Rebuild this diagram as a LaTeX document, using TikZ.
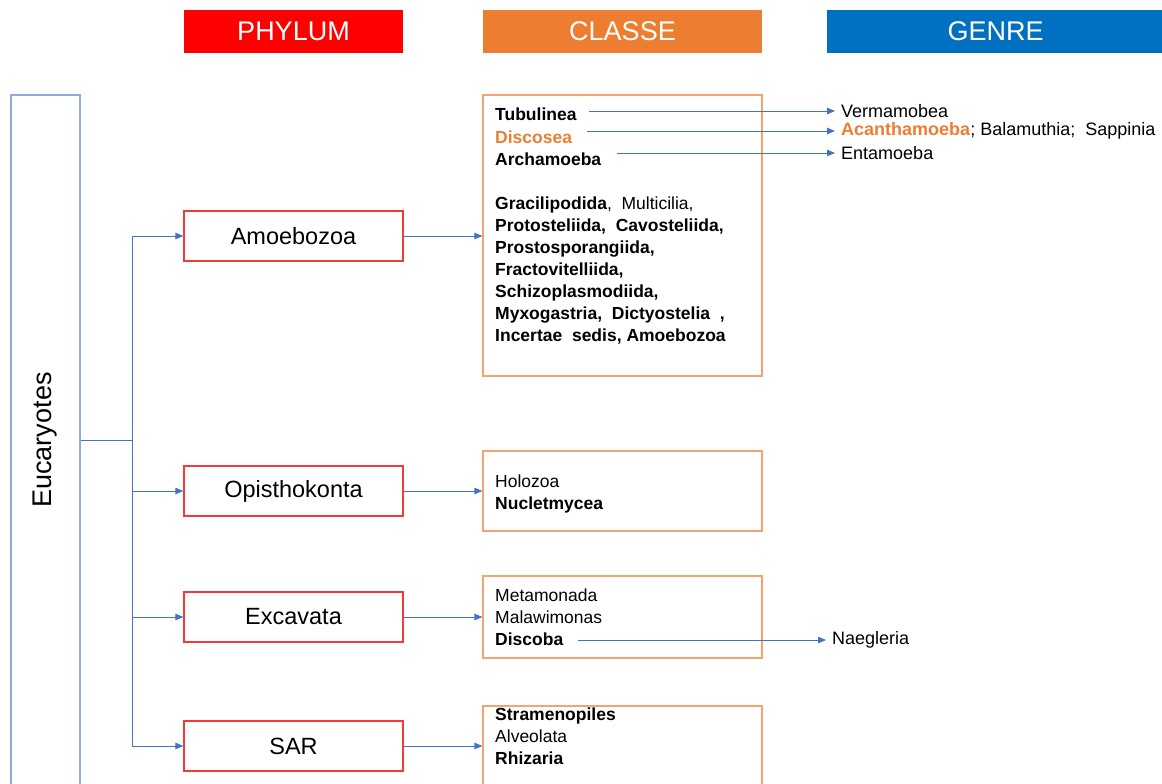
\documentclass[tikz,border=0pt]{standalone}
\usepackage{fontspec}
\setmainfont{Liberation Sans}
\usetikzlibrary{arrows.meta}
\definecolor{hdrred}{HTML}{FF0000}
\definecolor{hdrorange}{HTML}{ED7D31}
\definecolor{hdrblue}{HTML}{0070C0}
\definecolor{linkblue}{HTML}{4472C4}
\definecolor{phylumred}{HTML}{F23A3A}
\definecolor{classeorange}{HTML}{F4A46C}
\definecolor{eukblue}{HTML}{8FAADC}
\definecolor{taxonorange}{HTML}{ED7D31}
\begin{document}
\begin{tikzpicture}[x=1pt, y=-1pt,
    header/.style={fill=#1, text=white, minimum width=219pt, minimum height=43pt, inner sep=0pt, font=\fontsize{27}{30}\selectfont},
    phylumbox/.style={draw=phylumred, line width=1.2pt, minimum width=219pt, minimum height=50pt, font=\fontsize{23.5}{28}\selectfont},
    classebox/.style={draw=classeorange, line width=1.2pt, minimum width=279pt, inner sep=0pt},
    taxon/.style={anchor=base west, inner sep=0pt, align=left, font=\fontsize{17.5}{22}\selectfont},
    genus/.style={anchor=west, inner sep=0pt, font=\fontsize{18}{22}\selectfont},
    link/.style={draw=linkblue, line width=0.9pt},
    arrow/.style={link, -{Triangle[length=8pt, width=6.5pt]}}]
    \useasboundingbox (0,0) rectangle (1162,784);
    \clip (0,0) rectangle (1162,784);

    % headers
    \node[header=hdrred] (hphylum) at (293.5, 31.5) {PHYLUM};
    \node[header=hdrorange, minimum width=279pt] (hclasse) at (622.5, 31.5) {CLASSE};
    \node[header=hdrblue, minimum width=337pt] (hgenre) at (995.5, 31.5) {GENRE};

    % root
    \node[draw=eukblue, line width=1.2pt, rotate=90, minimum width=690pt, minimum height=69pt, font=\fontsize{27}{30}\selectfont] (euk) at (45.5, 440) {Eucaryotes};
    \coordinate (fork) at (132, 440);

    % phyla
    \node[phylumbox] (amoebozoa) at (293.5, 236) {Amoebozoa};
    \node[phylumbox] (opisthokonta) at (293.5, 491) {Opisthokonta};
    \node[phylumbox] (excavata) at (293.5, 617) {Excavata};
    \node[phylumbox] (sar) at (293.5, 746) {SAR};

    % classes
    \node[classebox, minimum height=281pt] (clamoeb) at (622.5, 235.5) {};
    \node[classebox, minimum height=80pt] (clopist) at (622.5, 491) {};
    \node[classebox, minimum height=82pt] (clexcav) at (622.5, 617) {};
    \node[classebox, minimum height=100pt] (clsar) at (622.5, 756) {};

    \node[taxon] (tubulinea) at (495, 121) {\textbf{Tubulinea}};
    \node[taxon, text=taxonorange] (discosea) at (495, 143) {\textbf{Discosea}};
    \node[taxon] (archamoeba) at (495, 165) {\textbf{Archamoeba}};
    % base of a multi-line node = baseline of its last line
    \node[taxon] (autres) at (495, 341) {\textbf{Gracilipodida}, \ Multicilia,\\
        \textbf{Protosteliida, \ Cavosteliida,}\\
        \textbf{Prostosporangiida,}\\
        \textbf{Fractovitelliida,}\\
        \textbf{Schizoplasmodiida,}\\
        \textbf{Myxogastria, \ Dictyostelia \ ,}\\
        \textbf{Incertae \ sedis, Amoebozoa}};

    \node[taxon] (holozoa) at (495, 487) {Holozoa};
    \node[taxon] (nucletmycea) at (495, 509) {\textbf{Nucletmycea}};

    \node[taxon] (metamonada) at (495, 601) {Metamonada};
    \node[taxon] (malawimonas) at (495, 623) {Malawimonas};
    \node[taxon] (discoba) at (495, 645) {\textbf{Discoba}};

    \node[taxon] (stramenopiles) at (495, 720) {\textbf{Stramenopiles}};
    \node[taxon] (alveolata) at (495, 742) {Alveolata};
    \node[taxon] (rhizaria) at (495, 764) {\textbf{Rhizaria}};

    % genres
    \node[genus] (vermamobea) at (841, 111) {Vermamobea};
    \node[genus] (acanthamoeba) at (841, 131) {\textcolor{taxonorange}{\textbf{Acanthamoeba}}; Balamuthia; \ Sappinia};
    \node[genus] (entamoeba) at (841, 153) {Entamoeba};
    \node[genus] (naegleria) at (832, 640) {Naegleria};

    % tree
    \draw[link] (euk) -- (fork);
    \draw[link] (fork |- amoebozoa) -- (fork |- sar);
    \foreach \p in {amoebozoa, opisthokonta, excavata, sar}
        \draw[arrow] (fork |- \p) -- (\p);

    \draw[arrow] (amoebozoa) -- (amoebozoa -| clamoeb.west);
    \draw[arrow] (opisthokonta) -- (opisthokonta -| clopist.west);
    \draw[arrow] (excavata) -- (excavata -| clexcav.west);
    \draw[arrow] (sar) -- (sar -| clsar.west);

    \draw[arrow, shorten >=6pt] ([xshift=12pt]tubulinea.east |- vermamobea) -- (vermamobea.west);
    \draw[arrow, shorten >=6pt] ([xshift=15pt]discosea.east |- acanthamoeba) -- (acanthamoeba.west);
    \draw[arrow, shorten >=6pt] ([xshift=15pt]archamoeba.east |- entamoeba) -- (entamoeba.west);
    \draw[arrow, shorten >=6pt] ([xshift=14pt]discoba.east |- naegleria) -- (naegleria.west);
\end{tikzpicture}
\end{document}
